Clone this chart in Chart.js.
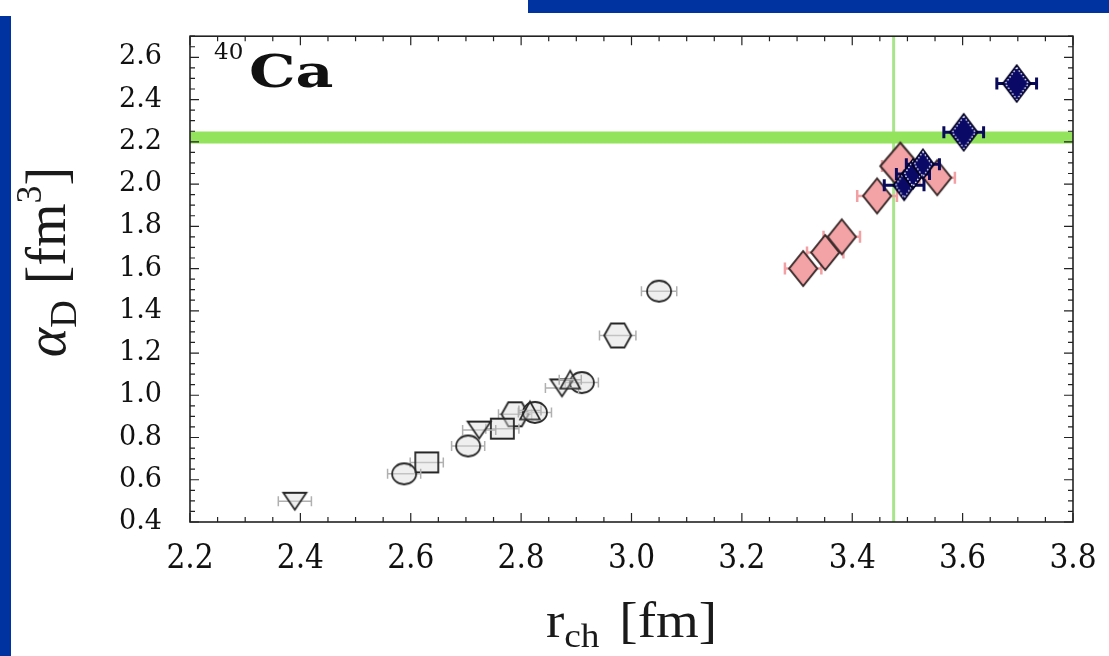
<!DOCTYPE html>
<html><head><meta charset="utf-8">
<script src="https://cdn.jsdelivr.net/npm/chart.js@4.4.1/dist/chart.umd.min.js"></script>
<style>
html,body{margin:0;padding:0;background:#fff;width:1109px;height:656px;overflow:hidden;position:relative}
#wrap{position:absolute;left:0;top:0;width:1109px;height:656px}
.bar{position:absolute;background:#0033a0;z-index:2}
</style></head><body>
<div id="wrap"><canvas id="c" width="1109" height="656"></canvas></div>
<div class="bar" style="left:0;top:16px;width:11px;height:640px"></div>
<div class="bar" style="left:528px;top:0;width:581px;height:13px"></div>
<script>
// ---- data ----
const xTickLabels = [2.2, 2.4, 2.6, 2.8, 3.0, 3.2, 3.4, 3.6, 3.8];
const yTickLabels = [0.4, 0.6, 0.8, 1.0, 1.2, 1.4, 1.6, 1.8, 2.0, 2.2, 2.4, 2.6];

const triDownX = [2.390, 2.724, 2.874];
const triDownY = [0.498, 0.835, 1.035];
const triDownErr = [0.03, 0.03, 0.03];

const triUpX = [2.816, 2.889];
const triUpY = [0.928, 1.074];
const triUpErr = [0.02, 0.02];

const circleX = [2.588, 2.704, 2.825, 2.910, 3.050];
const circleY = [0.628, 0.760, 0.919, 1.060, 1.493];
const circleErr = [0.03, 0.03, 0.03, 0.03, 0.032];

const squareX = [2.629, 2.766];
const squareY = [0.682, 0.842];
const squareErr = [0.03, 0.03];

const hexX = [2.789, 2.975];
const hexY = [0.910, 1.283];
const hexErr = [0.03, 0.033];

const pinkX = [3.311, 3.351, 3.381, 3.445, 3.487, 3.554];
const pinkY = [1.600, 1.676, 1.750, 1.944, 2.085, 2.030];
const pinkErr = [0.033, 0.033, 0.033, 0.036, 0.033, 0.032];

const navyX = [3.494, 3.510, 3.528, 3.602, 3.698];
const navyY = [1.994, 2.048, 2.094, 2.245, 2.476];
const navyErr = [0.036, 0.03, 0.03, 0.036, 0.036];

const bandY = 2.22;
const vLineX = 3.475;

// ---- marker images ----
function mk(w, h, draw) {
  const c = document.createElement('canvas');
  c.width = w + 6; c.height = h + 6;
  const g = c.getContext('2d');
  g.translate(3, 3);
  draw(g, w, h);
  return c;
}
const openFill = 'rgba(220,220,220,0.45)';
const openStroke = '#262626';
function diamondPath(g, w, h, inset) {
  const i = inset || 0;
  g.beginPath();
  g.moveTo(w / 2, i); g.lineTo(w - i, h / 2); g.lineTo(w / 2, h - i); g.lineTo(i, h / 2); g.closePath();
}
const pinkImg = mk(28, 35, (g, w, h) => { diamondPath(g, w, h); g.fillStyle = '#f3a3a6'; g.fill(); g.lineWidth = 2; g.strokeStyle = '#3a2a2a'; g.stroke(); });
const pinkBigImg = mk(40, 47, (g, w, h) => { diamondPath(g, w, h); g.fillStyle = '#f3a3a6'; g.fill(); g.lineWidth = 2; g.strokeStyle = '#3a2a2a'; g.stroke(); });
function navyDraw(g, w, h) {
  diamondPath(g, w, h); g.fillStyle = '#0a0a66'; g.fill(); g.lineWidth = 1.5; g.strokeStyle = '#000022'; g.stroke();
  diamondPath(g, w, h, 2.5); g.setLineDash([1.5, 2]); g.lineWidth = 1.3; g.strokeStyle = '#ffffff'; g.stroke();
}
const navyImg = mk(28, 37, navyDraw);
const navySmallImg = mk(22, 30, navyDraw);
const circleImg = mk(24, 21, (g, w, h) => { g.beginPath(); g.ellipse(w / 2, h / 2, w / 2, h / 2, 0, 0, Math.PI * 2); g.fillStyle = openFill; g.fill(); g.lineWidth = 1.8; g.strokeStyle = openStroke; g.stroke(); });
const squareImg = mk(23, 20, (g, w, h) => { g.beginPath(); g.rect(0, 0, w, h); g.fillStyle = openFill; g.fill(); g.lineWidth = 1.8; g.strokeStyle = openStroke; g.stroke(); });
const hexImg = mk(27, 24, (g, w, h) => { g.beginPath(); g.moveTo(0, h / 2); g.lineTo(w * 0.25, 0); g.lineTo(w * 0.75, 0); g.lineTo(w, h / 2); g.lineTo(w * 0.75, h); g.lineTo(w * 0.25, h); g.closePath(); g.fillStyle = openFill; g.fill(); g.lineWidth = 1.8; g.strokeStyle = openStroke; g.stroke(); });
const triDownImg = mk(23, 17, (g, w, h) => { g.beginPath(); g.moveTo(0, 0); g.lineTo(w, 0); g.lineTo(w / 2, h); g.closePath(); g.fillStyle = openFill; g.fill(); g.lineWidth = 1.8; g.strokeStyle = openStroke; g.stroke(); });
const triUpImg = mk(20, 18, (g, w, h) => { g.beginPath(); g.moveTo(w / 2, 0); g.lineTo(w, h); g.lineTo(0, h); g.closePath(); g.fillStyle = 'rgba(220,220,220,0.25)'; g.fill(); g.lineWidth = 1.6; g.strokeStyle = openStroke; g.stroke(); });

const pts = (xs, ys) => xs.map((x, i) => ({ x: x, y: ys[i] }));

function markerSet(label, xs, ys, errs, img, order, errColor, errWidth) {
  return {
    label: label, data: pts(xs, ys), xErr: errs, errColor: errColor, errWidth: errWidth,
    pointStyle: img, pointRadius: 12, pointHoverRadius: 12, showLine: false, order: order,
    backgroundColor: 'transparent', borderColor: 'transparent'
  };
}

const errPlugin = {
  id: 'errbars',
  beforeDatasetDraw(chart, args) {
    const ds = chart.data.datasets[args.index];
    if (!ds.xErr) return;
    const ctx = chart.ctx, xs = chart.scales.x, ys = chart.scales.y;
    ctx.save();
    ctx.strokeStyle = ds.errColor; ctx.lineWidth = ds.errWidth;
    const cap = ds.errWidth > 2 ? 6 : 5;
    ds.data.forEach((p, j) => {
      const e = ds.xErr[j];
      const x0 = xs.getPixelForValue(p.x - e), x1 = xs.getPixelForValue(p.x + e), y = ys.getPixelForValue(p.y);
      ctx.beginPath();
      ctx.moveTo(x0, y); ctx.lineTo(x1, y);
      ctx.moveTo(x0, y - cap); ctx.lineTo(x0, y + cap);
      ctx.moveTo(x1, y - cap); ctx.lineTo(x1, y + cap);
      ctx.stroke();
    });
    ctx.restore();
  }
};

function drawParts(ctx, parts) {
  let total = 0;
  parts.forEach(p => { ctx.font = p.font; p.w = ctx.measureText(p.t).width + (p.gap || 0); total += p.w; });
  let x = -total / 2;
  parts.forEach(p => { ctx.font = p.font; ctx.fillText(p.t, x + (p.gap || 0), p.dy || 0); x += p.w; });
}

const framePlugin = {
  id: 'frame',
  afterDraw(chart) {
    const ctx = chart.ctx, a = chart.chartArea, xs = chart.scales.x, ys = chart.scales.y;
    ctx.save();
    ctx.strokeStyle = '#222'; ctx.lineWidth = 1.6;
    ctx.strokeRect(a.left, a.top, a.right - a.left, a.bottom - a.top);
    ctx.lineWidth = 1.2;
    ctx.beginPath();
    for (let v = 2.2; v <= 3.8001; v += 0.05) {
      const px = xs.getPixelForValue(v);
      const major = Math.abs(Math.round(v * 5) - v * 5) < 1e-6;
      const L = major ? 9 : 5;
      ctx.moveTo(px, a.bottom); ctx.lineTo(px, a.bottom - L);
      ctx.moveTo(px, a.top); ctx.lineTo(px, a.top + L);
    }
    for (let v = 0.4; v <= 2.7001; v += 0.05) {
      const py = ys.getPixelForValue(v);
      const major = Math.abs(Math.round(v * 5) - v * 5) < 1e-6;
      const L = major ? 9 : 5;
      ctx.moveTo(a.left, py); ctx.lineTo(a.left + L, py);
      ctx.moveTo(a.right, py); ctx.lineTo(a.right - L, py);
    }
    ctx.stroke();

    // nucleus label
    ctx.fillStyle = '#111';
    ctx.textBaseline = 'alphabetic';
    ctx.font = '23px "DejaVu Serif"';
    ctx.fillText('40', 214, 59);
    ctx.save();
    ctx.translate(249, 87);
    ctx.scale(1.3, 1);
    ctx.font = 'bold 45px "DejaVu Serif"';
    ctx.fillText('Ca', 0, 0);
    ctx.restore();

    // x axis title
    ctx.fillStyle = '#1a1a1a';
    ctx.save();
    ctx.translate((a.left + a.right) / 2, 637);
    ctx.scale(1.1, 1);
    drawParts(ctx, [
      { t: 'r', font: '50px "Liberation Serif"' },
      { t: 'ch', font: '34px "Liberation Serif"', dy: 10 },
      { t: '[fm]', font: '50px "Liberation Serif"', gap: 18 }
    ]);
    ctx.restore();

    // y axis title
    ctx.save();
    ctx.translate(65, 262);
    ctx.rotate(-Math.PI / 2);
    drawParts(ctx, [
      { t: 'α', font: 'italic 56px "Liberation Serif"' },
      { t: 'D', font: '38px "Liberation Serif"', dy: 11 },
      { t: '[fm', font: '56px "Liberation Serif"', gap: 16 },
      { t: '3', font: '36px "Liberation Serif"', dy: -24 },
      { t: ']', font: '56px "Liberation Serif"' }
    ]);
    ctx.restore();
    ctx.restore();
  }
};

const datasets = [
  { type: 'line', label: 'vline', data: [{ x: vLineX, y: 0.4 }, { x: vLineX, y: 2.7 }], borderColor: '#a9e38c', borderWidth: 3, pointRadius: 0, order: 20 },
  { type: 'line', label: 'band', data: [{ x: 2.2, y: bandY }, { x: 3.8, y: bandY }], borderColor: '#93e45c', borderWidth: 12, pointRadius: 0, order: 19 },
  markerSet('circles', circleX, circleY, circleErr, circleImg, 8, '#b0b0b0', 1.5),
  markerSet('squares', squareX, squareY, squareErr, squareImg, 8, '#b0b0b0', 1.5),
  markerSet('hexagons', hexX, hexY, hexErr, hexImg, 8, '#b0b0b0', 1.5),
  markerSet('triDown', triDownX, triDownY, triDownErr, triDownImg, 7, '#b0b0b0', 1.5),
  markerSet('triUp', triUpX, triUpY, triUpErr, triUpImg, 6, '#b0b0b0', 1.5),
  Object.assign(markerSet('pink', pinkX, pinkY, pinkErr, pinkImg, 4, '#f2a0a4', 2.5), {
    pointStyle: ctx => (ctx.dataIndex === 4 ? pinkBigImg : pinkImg)
  }),
  Object.assign(markerSet('navy', navyX, navyY, navyErr, navyImg, 2, '#0a0a5a', 3), {
    pointStyle: ctx => (ctx.dataIndex < 3 ? navySmallImg : navyImg)
  })
];

new Chart(document.getElementById('c'), {
  type: 'scatter',
  data: { datasets: datasets },
  options: {
    responsive: false, animation: false, devicePixelRatio: 1,
    layout: { padding: { top: 17, right: 36, left: 0, bottom: 0 } },
    plugins: { legend: { display: false }, tooltip: { enabled: false } },
    scales: {
      x: {
        type: 'linear', min: 2.2, max: 3.8,
        afterBuildTicks: s => { s.ticks = xTickLabels.map(v => ({ value: v })); },
        afterFit: s => { s.height = 134; },
        grid: { display: false }, border: { display: false },
        ticks: { autoSkip: false, maxRotation: 0, padding: 10, color: '#111',
          font: { family: '"DejaVu Serif Condensed", "DejaVu Serif"', size: 33 },
          callback: v => Number(v).toFixed(1) }
      },
      y: {
        type: 'linear', min: 0.4, max: 2.7,
        afterBuildTicks: s => { s.ticks = yTickLabels.map(v => ({ value: v })); },
        afterFit: s => { s.width = 190; },
        grid: { display: false }, border: { display: false },
        ticks: { autoSkip: false, padding: 20, color: '#111',
          font: { family: '"DejaVu Serif"', size: 27 },
          callback: v => Number(v).toFixed(1) }
      }
    }
  },
  plugins: [errPlugin, framePlugin]
});
</script>
</body></html>
